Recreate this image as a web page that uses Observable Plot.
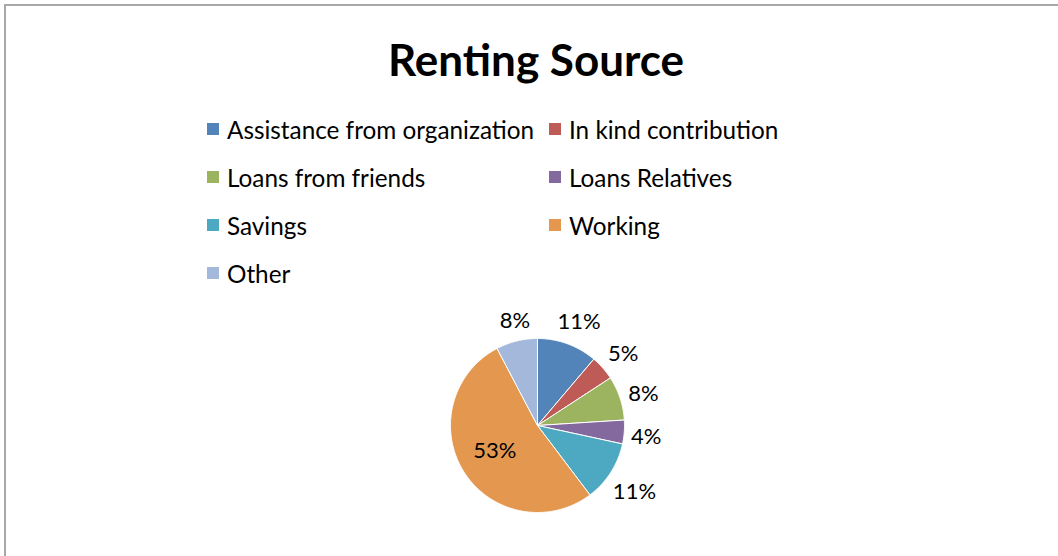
<!DOCTYPE html>
<html><head><meta charset="utf-8">
<script src="https://cdn.jsdelivr.net/npm/d3@7"></script>
<script src="https://cdn.jsdelivr.net/npm/@observablehq/plot@0.6"></script>
<style>
body{margin:0;background:#fff;}
#wrap{position:relative;width:1058px;height:556px;overflow:hidden;font-family:Lato, "Open Sans", sans-serif;color:#000;}
#frame{position:absolute;left:4px;top:4px;width:1200px;height:700px;border:2px solid #a8a8a8;box-sizing:border-box;}
#chart{position:absolute;left:0;top:0;}
#title{position:absolute;top:33px;left:0;width:1072px;text-align:center;font-weight:bold;font-size:44px;line-height:52px;}
#legend{position:absolute;left:207px;top:105px;display:grid;grid-template-columns:342px 300px;grid-auto-rows:48px;font-size:24.3px;}
.item{display:flex;align-items:center;white-space:nowrap;}
.sw{width:12px;height:12px;margin-right:8px;flex:none;}
</style></head>
<body>
<div id="wrap">
  <div id="frame"></div>
  <div id="chart"></div>
  <div id="title"></div>
  <div id="legend"></div>
</div>
<script>
const titleText = "Renting Source";
const categories = ["Assistance from organization","In kind contribution","Loans from friends","Loans Relatives","Savings","Working","Other"];
const values = [11.2, 4.6, 8.2, 4.4, 11.3, 52.6, 7.7];
const labels = ["11%","5%","8%","4%","11%","53%","8%"];
const colors = ["#5284B9","#BF5B57","#9CB45F","#84699F","#4DA9C1","#E4984F","#A3B8DA"];

document.getElementById("title").textContent = titleText;
const leg = document.getElementById("legend");
categories.forEach((c,i)=>{
  const d = document.createElement("div"); d.className="item";
  const s = document.createElement("span"); s.className="sw"; s.style.background=colors[i];
  const t = document.createElement("span"); t.textContent=c;
  d.appendChild(s); d.appendChild(t); leg.appendChild(d);
});

const cx = 537, cy = 425, R = 87;
const arcs = d3.pie().sort(null).value(d=>d)(values);
const slicePts = [];
const labelPts = [];
arcs.forEach((a,i)=>{
  const cat = categories[i];
  slicePts.push({cat, x:0, y:0});
  const n = Math.max(4, Math.ceil((a.endAngle-a.startAngle)/0.01));
  for(let k=0;k<=n;k++){
    const t = a.startAngle + (a.endAngle-a.startAngle)*k/n;
    slicePts.push({cat, x:Math.sin(t), y:Math.cos(t)});
  }
  slicePts.push({cat, x:0, y:0});
  // label placement: inside for big slice, otherwise outside end with box clearance
  const mid = (a.startAngle+a.endAngle)/2 + 0.03;
  const sx = Math.sin(mid), sy = Math.cos(mid);
  let r;
  if (values[i] > 30) r = 0.57;
  else {
    const w = labels[i].length*14.3, h = 20;
    const half = Math.abs(sx)*w/2 + Math.abs(sy)*h/2;
    r = (R + 7 + half)/R;
  }
  labelPts.push({label:labels[i], x:sx*r, y:sy*r});
});

const plot = Plot.plot({
  width: 1058, height: 556,
  style: {background:"transparent", overflow:"visible"},
  x: {domain:[-1,1], range:[cx-R, cx+R], axis:null},
  y: {domain:[-1,1], range:[cy+R, cy-R], axis:null},
  color: {domain:categories, range:colors},
  marks: [
    Plot.line(slicePts, {x:"x", y:"y", z:"cat", fill:"cat", stroke:"white", strokeWidth:1, curve:"linear"}),
    Plot.text(labelPts, {x:"x", y:"y", text:"label", fontSize:22, fontFamily:"Lato", fill:"black", textAnchor:"middle", lineAnchor:"middle"})
  ]
});
document.getElementById("chart").appendChild(plot);
</script>
</body></html>
